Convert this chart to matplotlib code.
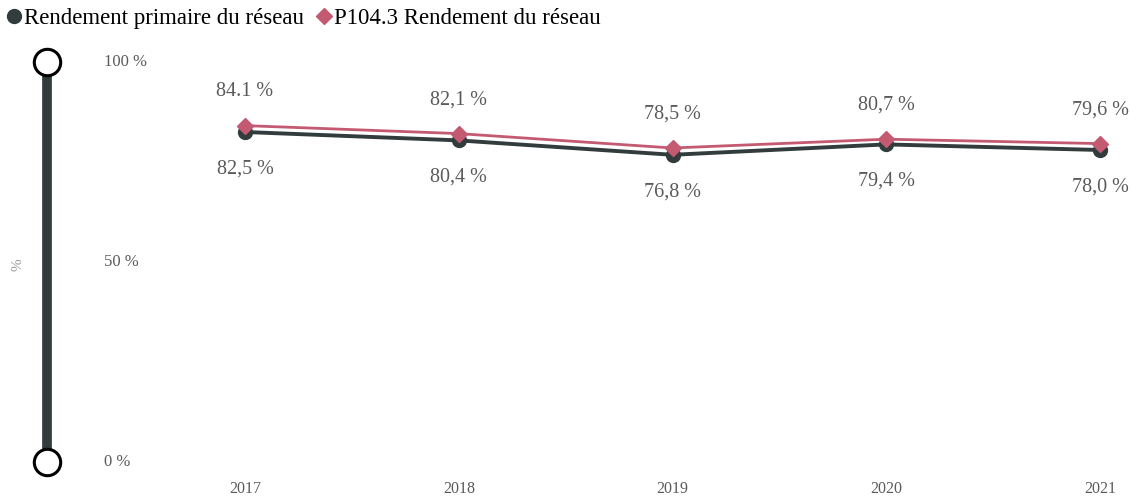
import matplotlib.pyplot as plt
from matplotlib.lines import Line2D

years = ["2017", "2018", "2019", "2020", "2021"]
primaire = [82.5, 80.4, 76.8, 79.4, 78.0]
rendement = [84.1, 82.1, 78.5, 80.7, 79.6]
primaire_labels = ["82,5 %", "80,4 %", "76,8 %", "79,4 %", "78,0 %"]
rendement_labels = ["84.1 %", "82,1 %", "78,5 %", "80,7 %", "79,6 %"]
y_ticks = [0, 50, 100]
y_tick_labels = ["0 %", "50 %", "100 %"]

DARK = "#323c3c"
PINK = "#c45a72"
GREY = "#5a5a5a"
FONT = "Liberation Serif"

W, H = 1141, 499
fig = plt.figure(figsize=(W / 100, H / 100), dpi=100)
bar_x, y0, y100 = 47, 462, 62
ax = fig.add_axes([bar_x / W, (H - y0) / H, (W - bar_x) / W, (y0 - y100) / H])

step = 213.75
x = list(range(len(years)))
ax.set_xlim((bar_x - 245) / step, (W - 245) / step)
ax.set_ylim(0, 100)

ax.plot(x, primaire, color=DARK, lw=2.8, marker="o", ms=10, mfc=DARK, mec=DARK, zorder=3)
ax.plot(x, rendement, color=PINK, lw=2.0, marker="D", ms=8, mfc=PINK, mec=PINK, zorder=4)

for xi, v, lab in zip(x, rendement, rendement_labels):
    ax.annotate(lab, (xi, v), xytext=(0, 34), textcoords="offset pixels",
                ha="center", va="center", fontsize=14.5, color=GREY, family=FONT)
for xi, v, lab in zip(x, primaire, primaire_labels):
    ax.annotate(lab, (xi, v), xytext=(0, -37), textcoords="offset pixels",
                ha="center", va="center", fontsize=14.5, color=GREY, family=FONT)

# vertical axis bar with hollow end caps
ytr = ax.get_yaxis_transform()
ax.plot([0, 0], [0, 100], transform=ytr, color=DARK, lw=7, clip_on=False, zorder=2,
        solid_capstyle="butt")
ax.plot([0, 0], [0, 100], transform=ytr, ls="none", marker="o", ms=19, mfc="white",
        mec="black", mew=2.2, clip_on=False, zorder=5)
for t, lab in zip(y_ticks, y_tick_labels):
    ax.text((104 - bar_x) / (W - bar_x), t, lab, transform=ytr, ha="left", va="center",
            fontsize=12, color=GREY, family=FONT)
fig.text(18 / W, 0.47, "%", rotation=90, ha="center", va="center", fontsize=11,
         color="#999999", family=FONT)

ax.set_xticks(x)
ax.set_xticklabels(years, family=FONT, fontsize=11.5, color=GREY)
ax.tick_params(axis="x", length=0, pad=14)
ax.set_yticks([])
for s in ax.spines.values():
    s.set_visible(False)

handles = [
    Line2D([], [], ls="none", marker="o", ms=10, mfc=DARK, mec=DARK),
    Line2D([], [], ls="none", marker="D", ms=8, mfc=PINK, mec=PINK),
]
fig.legend(handles, ["Rendement primaire du réseau", "P104.3 Rendement du réseau"],
           loc="upper left", bbox_to_anchor=(-0.009, 1.012), ncol=2, frameon=False,
           prop={"family": FONT, "size": 16.5}, handletextpad=0.0, columnspacing=0.4,
           handlelength=0.9, borderaxespad=0.2)

fig.savefig("out.png", dpi=100)
